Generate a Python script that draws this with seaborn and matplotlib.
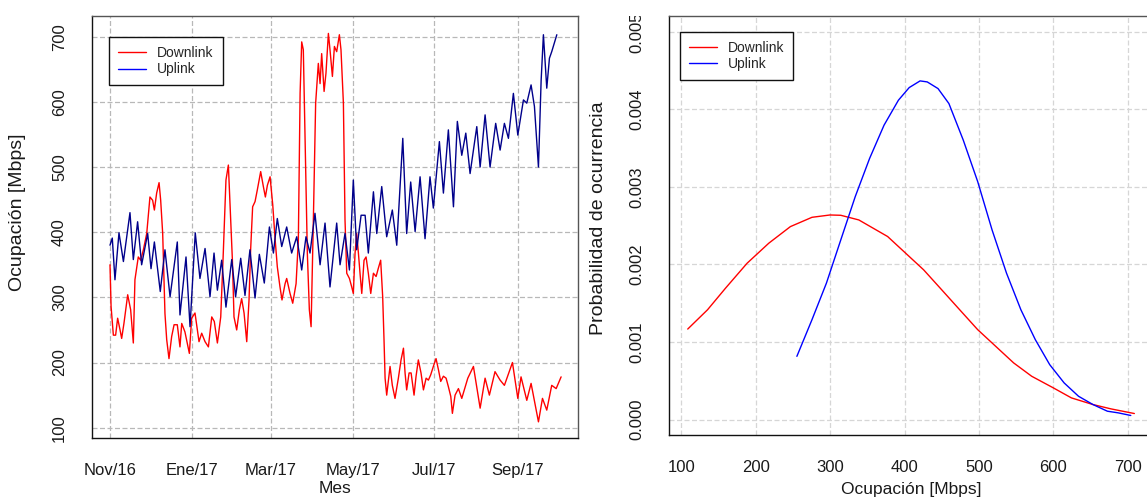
import numpy as np
import pandas as pd
import matplotlib
matplotlib.use("Agg")
import matplotlib.pyplot as plt
from matplotlib.lines import Line2D
from matplotlib.transforms import Bbox, TransformedBbox
import seaborn as sns

# ---------------------------------------------------------------
# Traffic series (days counted from 1 Nov 2016, values in Mbps)
# ---------------------------------------------------------------
start_date = pd.Timestamp("2016-11-01")

down_days = [0, 0.8, 2.5, 4.2, 5.7, 7.5, 8.7, 10.4, 13.2, 15.4, 17.4, 18.6, 21.1, 22.9,
             24.9, 27.4, 29.8, 31.8, 33.1, 34.8, 36.6, 37.8, 39.3, 41.0, 42.3, 44.0,
             46.0, 47.8, 50.2, 52.2, 53.5, 55.9, 59.2, 60.9, 63.4, 66.4, 68.4, 70.9,
             73.4, 75.9, 77.8, 80.1, 82.6, 84.5, 86.5, 88.3, 90.0, 91.3, 92.5, 94.5,
             96.5, 98.2, 100.0, 102.0, 103.7, 104.9, 106.4, 108.2, 109.9, 112.4, 114.4,
             115.9, 117.4, 119.4, 121.4, 123.1, 124.8, 126.8, 128.3, 130.6, 131.8, 134.3,
             136.3, 138.8, 140.5, 141.8, 143.0, 144.2, 145.5, 147.2, 148.7, 150.0, 151.7,
             153.4, 155.4, 156.7, 157.9, 159.7, 161.1, 162.9, 164.1, 165.9, 167.4, 169.1,
             171.1, 172.3, 174.1, 175.3, 176.6, 178.6, 180.3, 181.5, 182.8, 184.0, 185.3,
             186.5, 187.8, 189.5, 191.0, 192.7, 194.5, 196.5, 198.5, 200.2, 201.9, 203.4,
             204.4, 205.2, 206.4, 208.9, 210.6, 212.6, 215.1, 217.1, 218.9, 220.1, 221.3,
             223.1, 224.6, 226.8, 228.3, 230.0, 232.0, 233.8, 235.8, 237.5, 239.2, 241.2,
             243.2, 245.0, 246.7, 248.7, 250.7, 252.4, 254.2, 255.4, 257.4, 259.9, 262.4,
             266.9, 271.1, 276.1, 279.8, 283.0, 287.2, 291.0, 294.2, 300.2, 304.2, 306.6,
             310.9, 314.1, 319.6, 322.6, 325.8, 329.5, 332.8, 336.5]
down_mbps = [350, 286, 242, 242, 268, 250, 237, 260, 304, 281, 230, 327, 362, 357,
             373, 398, 454, 449, 434, 460, 476, 449, 398, 275, 235, 206,
             240, 258, 258, 224, 260, 247, 214, 268, 276, 232, 245, 232,
             224, 270, 263, 230, 270, 368, 480, 503, 419, 357, 270, 250,
             281, 298, 276, 232, 296, 373, 439, 447, 465, 493, 470,
             454, 472, 485, 442, 391, 347, 316, 296, 321, 329, 306,
             291, 321, 388, 613, 692, 680, 547, 368, 281, 255, 419,
             598, 659, 628, 674, 616, 644, 705, 680, 639, 685, 677,
             703, 680, 598, 419, 337, 329, 316, 306, 368, 398, 368,
             337, 306, 357, 362, 337, 306, 337, 332, 345, 357, 301,
             235, 176, 150, 194, 165, 145, 176, 204, 222, 184, 158,
             184, 184, 150, 179, 204, 184, 158, 176, 173, 181, 194,
             206, 189, 171, 179, 176, 163, 148, 122, 150, 160, 145,
             176, 194, 130, 176, 150, 186, 173, 165, 200, 145, 178,
             142, 168, 109, 145, 127, 165, 160, 178]

up_days = [0, 1.7, 3.7, 6.7, 10.0, 14.9, 17.4, 20.6, 23.6, 28.1, 30.6, 33.1, 37.5,
           41.0, 44.8, 50.2, 52.2, 56.7, 59.7, 63.6, 67.1, 70.9, 74.6, 77.6, 80.1,
           83.3, 86.5, 90.8, 93.7, 97.5, 100.7, 104.4, 108.2, 111.4, 115.1, 118.9,
           121.9, 124.8, 128.1, 131.8, 135.5, 139.3, 143.0, 146.2, 149.2, 152.9,
           156.7, 160.4, 164.1, 169.1, 171.6, 175.3, 178.6, 181.5, 184.0, 187.3,
           190.3, 192.7, 196.5, 199.0, 202.7, 206.4, 210.6, 213.9, 218.4, 221.3,
           224.3, 227.6, 231.3, 235.0, 238.7, 241.2, 245.7, 248.7, 252.4, 256.2,
           259.1, 262.4, 265.4, 268.6, 273.6, 276.1, 279.8, 283.5, 287.7, 291.0,
           294.2, 297.2, 300.9, 304.2, 308.4, 310.9, 314.1, 316.6, 319.6, 321.6,
           323.3, 325.8, 327.8, 329.5, 333.3]
up_mbps = [380, 391, 327, 399, 355, 430, 358, 416, 350, 398, 344, 385, 309,
           373, 301, 385, 273, 362, 255, 399, 329, 375, 301, 368, 311,
           357, 285, 358, 301, 360, 303, 373, 299, 366, 322, 408,
           368, 421, 378, 408, 368, 393, 342, 393, 368, 429,
           350, 414, 316, 414, 350, 398, 342, 480, 373, 426,
           426, 368, 462, 398, 470, 393, 434, 380, 544, 398,
           477, 401, 485, 390, 485, 437, 539, 460, 557, 439,
           570, 518, 552, 490, 562, 500, 580, 500, 567, 526,
           567, 544, 613, 549, 603, 598, 626, 593, 500, 633,
           703, 621, 667, 677, 703]

# Estimated probability densities of the occupation
down_dens_x = [108.7, 135.3, 159.5, 188.5, 217.6, 246.6, 275.6, 299.8, 314.3, 338.5,
               377.2, 401.4, 425.6, 449.8, 474.0, 498.2, 522.4, 546.5, 570.7, 599.8,
               624.0, 653.0, 677.2, 708.6]
down_dens_y = [0.001167, 0.001416, 0.001695, 0.002017, 0.002275, 0.002489, 0.002609,
               0.002639, 0.002635, 0.002575, 0.002361, 0.002146, 0.001931, 0.001674,
               0.001416, 0.001159, 0.000944, 0.000730, 0.000558, 0.000408, 0.000279,
               0.000193, 0.000137, 0.000077]
up_dens_x = [255.3, 275.6, 295.0, 314.3, 333.7, 353.0, 372.4, 391.7, 406.2, 420.8,
             430.4, 444.9, 459.5, 478.8, 498.2, 517.5, 536.9, 556.2, 575.6, 594.9,
             614.3, 633.6, 653.0, 672.4, 686.8, 703.8]
up_dens_y = [0.000815, 0.001288, 0.001760, 0.002318, 0.002876, 0.003369, 0.003798,
             0.004120, 0.004283, 0.004369, 0.004356, 0.004270, 0.004077, 0.003605,
             0.003069, 0.002446, 0.001888, 0.001416, 0.001030, 0.000708, 0.000472,
             0.000300, 0.000193, 0.000107, 0.000086, 0.000052]

month_labels = ["Nov/16", "Ene/17", "Mar/17", "May/17", "Jul/17", "Sep/17"]
series_names = ["Downlink", "Uplink"]
occ_ticks = [100, 200, 300, 400, 500, 600, 700]
dens_ticks = [0.000, 0.001, 0.002, 0.003, 0.004, 0.005]

# ---------------------------------------------------------------
sns.set_style("white")
plt.rcParams["font.family"] = ["Liberation Sans", "DejaVu Sans"]
plt.rcParams["axes.linewidth"] = 1.0

W, H = 1147, 498
fig = plt.figure(figsize=(W / 100, H / 100), dpi=100)
fig.patch.set_facecolor("white")

ax1 = fig.add_axes([91.7 / W, (H - 438) / H, (578 - 91.7) / W, (438 - 15.7) / H])
ax2 = fig.add_axes([668.6 / W, (H - 435) / H, (1154 - 668.6) / W, (435 - 16.5) / H])

text_col = "#1a1a1a"
red = "#ff0000"
navy = "#00008b"
blue = "#0000ff"

def style_axes(ax, grid_col):
    for side in ["left", "bottom"]:
        ax.spines[side].set_color("#111111")
    for side in ["top", "right"]:
        ax.spines[side].set_color("#555555")
    for s in ax.spines.values():
        s.set_linewidth(1.0)
    ax.tick_params(axis="both", which="both", direction="out", length=7.2, width=0.9,
                   color="#333333", labelsize=12, labelcolor=text_col, pad=10.5)
    ax.grid(True, which="major", color=grid_col, linestyle=(0, (4, 2)), linewidth=0.9)
    ax.set_axisbelow(True)

# ---------------- left: time series ----------------
down_dates = start_date + pd.to_timedelta(down_days, unit="D")
up_dates = start_date + pd.to_timedelta(up_days, unit="D")
ts_down = pd.DataFrame({"fecha": down_dates, "mbps": down_mbps})
ts_up = pd.DataFrame({"fecha": up_dates, "mbps": up_mbps})

sns.lineplot(data=ts_down, x="fecha", y="mbps", ax=ax1, color=red, linewidth=1.0)
sns.lineplot(data=ts_up, x="fecha", y="mbps", ax=ax1, color=navy, linewidth=1.0)

all_months = pd.date_range(start_date, periods=12, freq="MS")
ax1.set_xticks(all_months[::2])
ax1.set_xticklabels(month_labels)
ax1.set_xticks(all_months[1::2], minor=True)
ax1.set_xlim(start_date - pd.Timedelta(days=13.65), start_date + pd.Timedelta(days=349.1))
ax1.set_yticks(occ_ticks)
ax1.set_yticklabels([str(v) for v in occ_ticks])
ax1.set_ylim(84.2, 732.2)
style_axes(ax1, "#b8b8b8")
ax1.tick_params(axis="y", labelrotation=90)
plt.setp(ax1.get_yticklabels(), va="center")

ax1.set_xlabel("Mes", fontsize=12.5, color=text_col)
ax1.set_ylabel("Ocupación [Mbps]", fontsize=14, color=text_col)
ax1.xaxis.set_label_coords(0.5, -0.103)
ax1.yaxis.set_label_coords(-0.1355, 0.535)

h1 = [Line2D([], [], color=red, lw=1.0), Line2D([], [], color=blue, lw=1.0)]
leg1 = ax1.legend(h1, series_names, loc="upper left", bbox_to_anchor=(0.0362, 0.9488),
                  borderaxespad=0, fontsize=10, frameon=True, fancybox=False,
                  framealpha=1, edgecolor="#111111", handlelength=2.0,
                  handletextpad=0.8, borderpad=0.65, labelspacing=0.15)
leg1.get_frame().set_linewidth(1.0)

# ---------------- right: densities ----------------
dens_down = pd.DataFrame({"x": down_dens_x, "y": down_dens_y})
dens_up = pd.DataFrame({"x": up_dens_x, "y": up_dens_y})
sns.lineplot(data=dens_down, x="x", y="y", ax=ax2, color=red, linewidth=1.0, sort=False)
sns.lineplot(data=dens_up, x="x", y="y", ax=ax2, color=blue, linewidth=1.0, sort=False)

ax2.set_xticks(occ_ticks)
ax2.set_xticklabels([str(v) for v in occ_ticks])
ax2.set_xlim(83.0, 735.0)
ax2.set_yticks(dens_ticks)
ax2.set_yticklabels([f"{v:.3f}" for v in dens_ticks])
ax2.set_ylim(-0.0002, 0.0052)
style_axes(ax2, "#d6d6d6")
ax2.tick_params(axis="y", labelrotation=90)
plt.setp(ax2.get_yticklabels(), va="center")

ax2.set_xlabel("Ocupación [Mbps]", fontsize=12.5, color=text_col)
ax2.set_ylabel("Probabilidad de ocurrencia", fontsize=14, color=text_col)
ax2.xaxis.set_label_coords(0.5, -0.1116)
ax2.yaxis.set_label_coords(-0.127, 0.5185)

h2 = [Line2D([], [], color=red, lw=1.0), Line2D([], [], color=blue, lw=1.0)]
leg2 = ax2.legend(h2, series_names, loc="upper left", bbox_to_anchor=(0.0235, 0.9637),
                  borderaxespad=0, fontsize=10, frameon=True, fancybox=False,
                  framealpha=1, edgecolor="#111111", handlelength=2.0,
                  handletextpad=0.8, borderpad=0.65, labelspacing=0.15)
leg2.get_frame().set_linewidth(1.0)

# the right panel's figure region starts slightly below the top edge
fig.canvas.draw()
clip = TransformedBbox(Bbox([[0.0, 0.0], [1.0, (H - 16) / H]]), fig.transFigure)
for lab in ax2.yaxis.get_ticklabels():
    lab.set_clip_on(True)
    lab.set_clip_box(clip)

fig.savefig("out.png", dpi=100, facecolor="white")
